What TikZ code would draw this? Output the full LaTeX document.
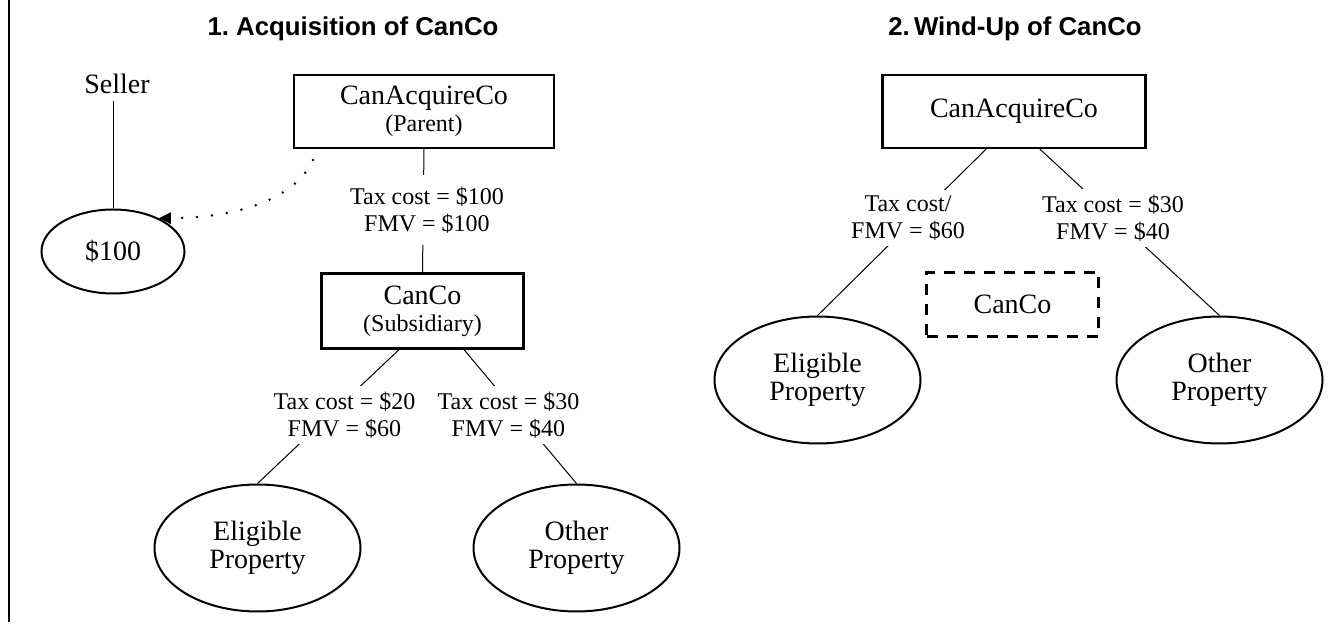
\documentclass[tikz,border=0pt]{standalone}
\usepackage{fontspec}
\setmainfont{Liberation Serif}
\newfontfamily\headfont{Liberation Sans}
\usetikzlibrary{arrows.meta}
\usetikzlibrary{shapes.geometric}

\begin{document}
\begin{tikzpicture}[x=0.5pt,y=-0.5pt,
    company/.style={draw,line width=1.2pt,inner sep=0pt,align=center,font=\fontsize{14}{13.5}\selectfont},
    asset/.style={draw,ellipse,line width=1pt,inner sep=0pt,align=center,minimum width=103pt,minimum height=63.5pt,font=\fontsize{14}{14}\selectfont},
    cost/.style={fill=white,inner xsep=2pt,inner ysep=3pt,align=center,font=\fontsize{12}{13.5}\selectfont},
    link/.style={line width=0.5pt},
    heading/.style={anchor=base,font=\headfont\bfseries\fontsize{12.9}{14}\selectfont}]
        \useasboundingbox (0,0) rectangle (1340,630);
        \draw[line width=0.6pt] (9,0) -- (9,622);

        %titles
        \node[heading] (head1) at (353,36) {1.\ Acquisition of CanCo};
        \node[heading] (head2) at (1015,36) {2.\,Wind-Up of CanCo};

        %step 1
        \node[anchor=base,inner sep=3pt,font=\fontsize{14}{14}\selectfont] (seller) at (117,94) {Seller};
        \node[draw,ellipse,line width=1pt,inner sep=0pt,minimum width=71.5pt,minimum height=42pt,font=\fontsize{14}{14}\selectfont] (money) at (113,251.5) {\$100};
        \node[company,minimum width=130pt,minimum height=36.5pt] (parent) at (424,111.5) {CanAcquireCo\\{\fontsize{12}{13.5}\selectfont (Parent)}};
        \node[company,minimum width=101pt,minimum height=37.5pt] (canco) at (422.5,311) {CanCo\\{\fontsize{12}{13.5}\selectfont (Subsidiary)}};
        \node[asset] (eligA) at (257.5,548) {Eligible\\Property};
        \node[asset] (otherA) at (576.5,548) {Other\\Property};
        \coordinate (paystart) at (313,160);

        \draw[link] (money.north |- seller.south) -- (money.north);
        \draw[line width=1.4pt,dash pattern=on 0pt off 7.5pt,line cap=round,-{Triangle[length=6pt,width=5.5pt]}] (paystart) .. controls (295,200) and (235,218) .. (money.36);
        \draw[link] (parent.south) -- (canco.north);
        \draw[link] ([xshift=-11.75pt]canco.south) -- (eligA.north);
        \draw[link] ([xshift=20.75pt]canco.south) -- (otherA.north);

        \node[cost,inner ysep=6pt] (costP) at (427,210) {Tax cost = \$100\\FMV = \$100};
        \node[cost] (cost20) at (344.5,415) {Tax cost = \$20\\FMV = \$60};
        \node[cost] (cost30A) at (508.5,415) {Tax cost = \$30\\FMV = \$40};

        %step 2
        \node[company,minimum width=131.5pt,minimum height=36.5pt] (acquirer) at (1014,111.5) {CanAcquireCo};
        \node[draw,line width=1.3pt,dash pattern=on 5.5pt off 4.5pt,inner sep=0pt,minimum width=86pt,minimum height=32pt,font=\fontsize{14}{14}\selectfont] (gone) at (1012.5,304.5) {CanCo};
        \node[asset] (eligB) at (817.5,380) {Eligible\\Property};
        \node[asset] (otherB) at (1219.5,380) {Other\\Property};

        \draw[link] ([xshift=-14pt]acquirer.south) -- (eligB.north);
        \draw[link] ([xshift=13pt]acquirer.south) -- (otherB.north);

        \node[cost] (cost60B) at (908,218) {Tax cost/\\FMV = \$60};
        \node[cost] (cost30B) at (1113,218) {Tax cost = \$30\\FMV = \$40};
\end{tikzpicture}
\end{document}
